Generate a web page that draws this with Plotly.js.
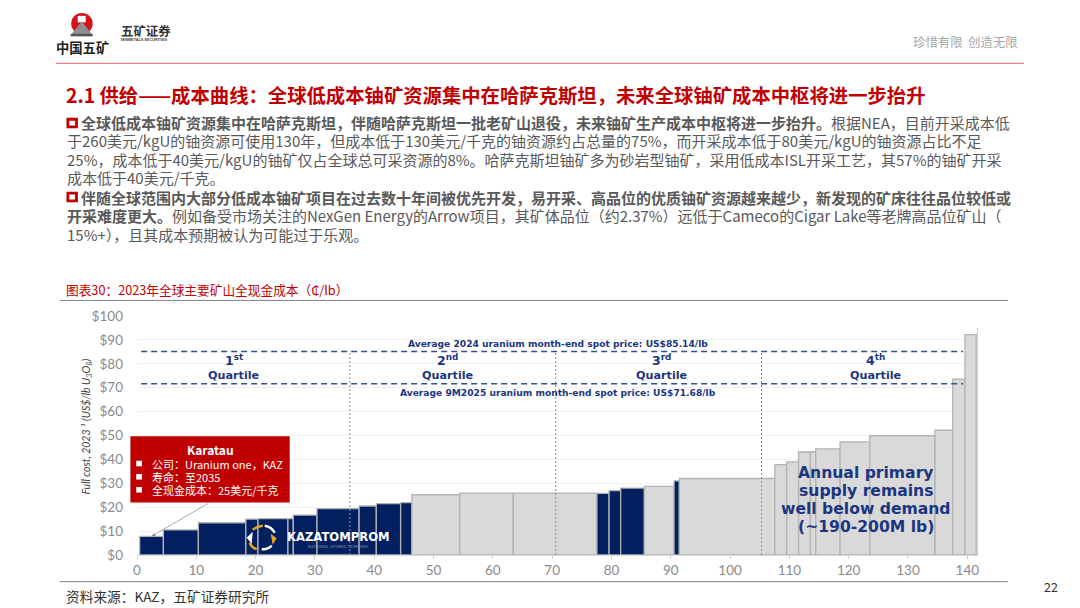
<!DOCTYPE html>
<html>
<head>
<meta charset="utf-8">
<script src="https://cdn.plot.ly/plotly-3.0.1.min.js"></script>
<style>html,body{margin:0;padding:0;background:#fff;overflow:hidden}#c{width:1080px;height:608px}</style>
</head>
<body>
<div id="c"></div>
<script>
// ---------- data ----------
const barStarts = [0.45,4.45,10.35,18.35,20.4,25.45,26.35,30.35,37.45,40.35,44.45,46.35,54.4,63.45,77.55,79.6,81.55,85.55,90.55,91.45,107.55,109.55,111.55,113.55,114.45,118.55,123.55,134.55,137.55,139.6];
const barEnds   = [4.45,10.35,18.35,20.4,25.45,26.35,30.35,37.45,40.35,44.45,46.35,54.4,63.45,77.55,79.6,81.55,85.55,90.55,91.45,107.55,109.55,111.55,113.55,114.45,118.55,123.55,134.55,137.55,139.6,141.5];
const barCosts  = [7.8,10.5,13.5,15,15.2,15.2,16.7,19.4,20.5,21.5,21.9,25.2,25.9,25.9,25.8,26.9,28,28.7,31,32,37.8,39,43.1,43.2,44.4,47.3,49.9,52.2,73.6,92.2];
const isKazatomprom = [1,1,1,1,1,1,1,1,1,1,1,0,0,0,1,1,1,0,1,0,0,0,0,0,0,0,0,0,0,0];
const spot2024 = 85.14;
const spot9M2025 = 71.68;
const spotRange = [0.7,139.3];
const quartileBreaks = [35.9,70.6,105.3];
const quartileTop = 85;
const edgeLineX = [141.7,141.7];
const edgeLineY = [0,95];
const yTicks = [0,10,20,30,40,50,60,70,80,90,100];
const xTicks = [0,10,20,30,40,50,60,70,80,90,100,110,120,130,140];
const yTickLabels = ['$0','$10','$20','$30','$40','$50','$60','$70','$80','$90','$100'];
const yAxisTitle = '<i>Full cost, 2023 ¹ (US$/lb U<sub>3</sub>O<sub>8</sub>)</i>';
const slideTitle = '2.1 供给——成本曲线\uFF1A全球低成本铀矿资源集中在哈萨克斯坦\uFF0C未来全球铀矿成本中枢将进一步抬升';
const bodyLines = [
 '<b>全球低成本铀矿资源集中在哈萨克斯坦\uFF0C伴随哈萨克斯坦一批老矿山退役\uFF0C未来铀矿生产成本中枢将进一步抬升\u3002</b>根据NEA\uFF0C目前开采成本低',
 '于260美元/kgU的铀资源可使用130年\uFF0C但成本低于130美元/千克的铀资源约占总量的75%\uFF0C而开采成本低于80美元/kgU的铀资源占比不足',
 '25%\uFF0C成本低于40美元/kgU的铀矿仅占全球总可采资源的8%\u3002哈萨克斯坦铀矿多为砂岩型铀矿\uFF0C采用低成本ISL开采工艺\uFF0C其57%的铀矿开采',
 '成本低于40美元/千克\u3002',
 '<b>伴随全球范围内大部分低成本铀矿项目在过去数十年间被优先开发\uFF0C易开采、高品位的优质铀矿资源越来越少\uFF0C新发现的矿床往往品位较低或</b>',
 '<b>开采难度更大\u3002</b>例如备受市场关注的NexGen Energy的Arrow项目\uFF0C其矿体品位\uFF08约2.37%\uFF09远低于Cameco的Cigar Lake等老牌高品位矿山\uFF08',
 '15%+\uFF09\uFF0C且其成本预期被认为可能过于乐观\u3002'
];
const chartCaption = '图表30\uFF1A2023年全球主要矿山全现金成本\uFF08₵/lb\uFF09';
const sourceNote = '资料来源\uFF1AKAZ\uFF0C五矿证券研究所';
const spotLabels = ['Average 2024 uranium month-end spot price: US$85.14/lb','Average 9M2025 uranium month-end spot price: US$71.68/lb'];
const quartileOrdinals = ['1<sup>st</sup>','2<sup>nd</sup>','3<sup>rd</sup>','4<sup>th</sup>'];
const demandNote = ['Annual primary','supply remains','well below demand','(~190-200M lb)'];
const karatauLines = ['公司\uFF1AUranium one\uFF0CKAZ','寿命\uFF1A至2035','全现金成本\uFF1A25美元/千克'];

// ---------- layout helpers ----------
const W=1080,H=608,L=137.3,R=978.2,T=316,B=555.3;
const px=x=>(x-L)/(R-L), py=y=>(B-y)/(B-T);
const CJK='"Noto Sans CJK SC","Noto Sans",sans-serif';
const GEO='"DejaVu Sans",Lato,sans-serif';
const NAVY='#1b3680';
const tx=(text,x,y,size,color,o={})=>({text,xref:'paper',yref:'paper',x:px(x),y:py(y),xanchor:o.a||'left',yanchor:'middle',showarrow:false,borderpad:0,textangle:o.r||0,
  font:{family:o.f||CJK,size,color}});
const rect=(x0,y0,x1,y1,fill,line)=>({type:'rect',xref:'paper',yref:'paper',x0:px(x0),x1:px(x1),y0:py(y0),y1:py(y1),fillcolor:fill,line:line||{width:0}});
const hline=(x0,x1,y,color,w)=>({type:'line',xref:'paper',yref:'paper',x0:px(x0),x1:px(x1),y0:py(y),y1:py(y),line:{color,width:w}});
const path=(pts,color,w,fill)=>({type:'path',xref:'paper',yref:'paper',path:pts.map(p=>p[0]+(p.length>1?px(p[1])+','+py(p[2]):'')+(p.length>3?' '+px(p[3])+','+py(p[4]):'')).join(' '),line:{color,width:w},fillcolor:fill||'rgba(0,0,0,0)'});

// ---------- traces ----------
const traces=[
 {type:'bar',x:barStarts.map((s,i)=>(s+barEnds[i])/2),width:barStarts.map((s,i)=>barEnds[i]-s),y:barCosts,
  marker:{color:isKazatomprom.map(k=>k?'#02205f':'#d9d9d9'),line:{color:'#b3b3b3',width:1.3}},hoverinfo:'skip'},
 {type:'scatter',mode:'lines',x:edgeLineX,y:edgeLineY,line:{color:'#c8c8c8',width:1},hoverinfo:'skip'},
 ...quartileBreaks.map(q=>({type:'scatter',mode:'lines',x:[q,q],y:[0,quartileTop],line:{color:'#8c8c8c',width:1,dash:'2px,2px'},hoverinfo:'skip'})),
 {type:'scatter',mode:'lines',x:spotRange,y:[spot2024,spot2024],line:{color:'#33508f',width:1.5,dash:'6px,4px'},hoverinfo:'skip'},
 {type:'scatter',mode:'lines',x:spotRange,y:[spot9M2025,spot9M2025],line:{color:'#33508f',width:1.5,dash:'6px,4px'},hoverinfo:'skip'}
];

// ---------- annotations ----------
const bodyY=[122.7,140.7,159,177.3,197.3,215.7,234];
const bodyX=[80,66,66,66,80,66,66];
const ann=[
 tx('珍惜有限  创造无限',1019,42,12.4,'#a6a6a6',{a:'right'}),
 tx('<b>中国五矿</b>',55,47.5,13.3,'#222'),
 tx('<b>五矿证券</b>',120,30.5,12.4,'#333'),
 tx('<b>MINMETALS SECURITIES</b>',120,39.5,3.8,'#444',{f:'"Liberation Sans",sans-serif'}),
 tx('<b>'+slideTitle+'</b>',65.5,94.5,19.35,'#c00000'),
 ...bodyLines.map((t,i)=>tx(t,bodyX[i],bodyY[i],15,'#595959')),
 tx(chartCaption,65.5,289.5,12.7,'#c00000'),
 tx(sourceNote,65.5,596.5,13.7,'#333'),
 tx('22',1051,586.5,12.5,'#333',{a:'center'}),
 tx(yAxisTitle,87,427,10.5,'#444',{a:'center',f:'Lato,sans-serif',r:-90}),
 tx('<b>'+spotLabels[0]+'</b>',558,344,9.15,NAVY,{a:'center',f:GEO}),
 tx('<b>'+spotLabels[1]+'</b>',558,392.8,9.15,NAVY,{a:'center',f:GEO}),
 ...[234,448,662,876].flatMap((x,i)=>[
   tx('<b>'+quartileOrdinals[i]+'</b>',x,360,12.5,NAVY,{a:'center',f:GEO}),
   tx('<b>Quartile</b>',x,375.3,11.2,NAVY,{a:'center',f:GEO})]),
 ...demandNote.map((t,i)=>tx('<b>'+t+'</b>',866.7,[473,491.5,509.5,527][i],15.6,NAVY,{a:'center',f:GEO})),
 tx('<b>Karatau</b>',210.5,450,12,'#fff',{a:'center'}),
 ...karatauLines.map((t,i)=>tx(t,151,[463.7,477,490][i],11,'#fff')),
 tx('<b>KAZATOMPROM</b>',338.5,537.7,11.6,'#fff',{a:'center',f:GEO}),
 tx('NATIONAL ATOMIC COMPANY',339,546.3,4.2,'#7f8fb5',{a:'center',f:GEO}),
 {text:'',x:2.5,y:7.9,xref:'x',yref:'y',axref:'x',ayref:'y',ax:12.3,ay:22,showarrow:true,arrowhead:2,arrowsize:1,arrowwidth:0.7,arrowcolor:'#8a8a8a'}
];

// ---------- decoration ----------
const shp=[
 hline(56,1024,63,'#e4636f',1),
 // group logo
 {type:'circle',xref:'paper',yref:'paper',x0:px(71.5),x1:px(93),y0:py(12.5),y1:py(34),fillcolor:'#d3121b',line:{width:0}},
 rect(78,15.5,86,22,'#fff'),
 path([['M',71,35],['L',82,21],['L',93,35],['Z']],'#888',0,'#8e8e8e'),
 rect(71,33.5,93,36,'#555'),
 // slide rules
 hline(60,1008,300.4,'#808080',1),
 hline(60,1008,582,'#808080',1),
 // body bullets
 rect(68.2,119,76.8,126.6,'rgba(0,0,0,0)',{color:'#c00000',width:2.8}),
 rect(68.2,193,76.8,200.8,'rgba(0,0,0,0)',{color:'#c00000',width:2.8}),
 // callout
 rect(130.7,436.3,290,502.7,'#c00000'),
 ...[463.7,477,490].map(y=>rect(136.5,y-2.8,142.3,y+2.8,'#fff')),
 // KAZ emblem
 path([['M',253,530],['Q',257,526.5,263,526]],'#f0a21e',2.4),
 path([['M',265,526],['Q',272,527,275,533]],'#ffffff',2.4),
 path([['M',262,549.5],['Q',268,550,272,546]],'#ffffff',2.4),
 path([['M',250,543],['Q',252,548,257,549.5]],'#f0a21e',2.4),
 path([['M',247,538],['L',253,532],['L',252,544],['Z']],'#ffffff',0,'#ffffff'),
 path([['M',277,538.5],['L',271,534],['L',273,545],['Z']],'#f0a21e',0,'#f0a21e')
];

const layout={
 width:W,height:H,showlegend:false,paper_bgcolor:'#fff',plot_bgcolor:'#fff',
 margin:{l:L,r:W-R,t:T,b:H-B,pad:0,autoexpand:false},
 barmode:'overlay',
 font:{family:GEO,color:'#7f7f7f'},
 xaxis:{range:[0,(R-L)/5.93],tickmode:'array',tickvals:xTicks,ticktext:xTicks.map(String),ticks:'outside',ticklen:3,tickcolor:'#cfcfcf',tickwidth:1,
   showgrid:false,zeroline:false,showline:true,linecolor:'#d9d9d9',linewidth:1,tickfont:{family:'Lato,sans-serif',size:13.5,color:'#8a8a8a'}},
 yaxis:{range:[0,100],tickmode:'array',tickvals:yTicks,ticktext:yTickLabels,ticks:'',ticklabelstandoff:13,
   showgrid:true,gridcolor:'#f1f1f1',gridwidth:1,zeroline:false,showline:false,tickfont:{family:'Lato,sans-serif',size:13.5,color:'#8a8a8a'}},
 shapes:shp,annotations:ann
};
Plotly.newPlot('c',traces,layout,{displayModeBar:false,staticPlot:true});
</script>
</body>
</html>
